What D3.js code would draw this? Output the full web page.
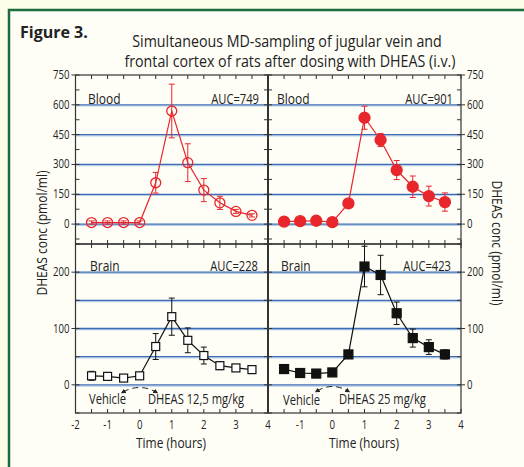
<!DOCTYPE html>
<html>
<head>
<meta charset="utf-8">
<script src="https://cdn.jsdelivr.net/npm/d3@7"></script>
<style>
  body { margin: 0; background: #fcfce8; }
  svg text { font-family: 'Open Sans', 'Roboto', sans-serif; fill: #222; }
</style>
</head>
<body>
<svg id="chart" width="524" height="467"></svg>
<script>
// time points (hours)
var times = [-1.5, -1, -0.5, 0, 0.5, 1, 1.5, 2, 2.5, 3, 3.5];

// blood, 12.5 mg/kg (open circles)
var bloodLow    = [8, 8, 8, 8, 208, 569, 309, 171, 107, 64, 44];
var bloodLowErr = [8, 8, 8, 8, 52, 135, 95, 58, 33, 10, 8];
// blood, 25 mg/kg (filled circles)
var bloodHigh    = [13, 15, 17, 10, 104, 535, 423, 272, 188, 141, 111];
var bloodHighErr = [0, 0, 0, 0, 6, 58, 33, 48, 54, 50, 46];
// brain, 12.5 mg/kg (open squares)
var brainLow    = [16, 15, 12, 16, 68, 121, 79, 52, 34, 30, 27];
var brainLowErr = [8, 3, 3, 3, 23, 33, 22, 15, 7, 5, 5];
// brain, 25 mg/kg (filled squares)
var brainHigh    = [28, 21, 20, 22, 54, 210, 195, 127, 83, 67, 54];
var brainHighErr = [0, 0, 0, 0, 5, 36, 35, 20, 16, 13, 8];

var bloodTicks = [0, 150, 300, 450, 600, 750];
var bloodGrid = [0, 150, 300, 450, 600];
var brainTicks = [0, 100, 200];
var brainGrid = [0, 50, 100, 150, 200];
var timeTicksLeft = [-2, -1, 0, 1, 2, 3, 4];
var timeTicksRight = [-1, 0, 1, 2, 3, 4];

var aucLow = ['AUC=749', 'AUC=228'];
var aucHigh = ['AUC=901', 'AUC=423'];

var RED = '#e8262c';
var GRID = '#3c6cb4';
var SQ = 0.8; // horizontal squeeze to mimic the condensed face

var svg = d3.select('#chart');

// green frame (cropped: only top & left visible)
svg.append('rect').attr('x', 9).attr('y', 10).attr('width', 530).attr('height', 470)
  .attr('fill', '#fefef7').attr('stroke', '#1d6b3e').attr('stroke-width', 2.5);

var xL = d3.scaleLinear().domain([-2, 4]).range([75.5, 268]);
var xR = d3.scaleLinear().domain([-2, 4]).range([268, 461]);
var yTop = d3.scaleLinear().domain([-100, 750]).range([244, 75]);
var yBot = d3.scaleLinear().domain([-50, 250]).range([413, 244]);

var halfHours = d3.range(-2, 4.01, 0.5);

// text with a horizontal squeeze
var label = function(x, y, txt, anchor, size, rot, sq) {
  return svg.append('text')
    .attr('transform', 'translate(' + x + ',' + y + ')' + (rot ? ' rotate(' + rot + ')' : '') +
      ' scale(' + (sq || SQ) + ',1)')
    .attr('text-anchor', anchor || 'start')
    .attr('font-size', size || 14).text(txt);
};

var drawGrid = function(x, y, vals) {
  vals.forEach(function(v) {
    svg.append('line')
      .attr('x1', x.range()[0]).attr('x2', x.range()[1])
      .attr('y1', y(v) + 1.2).attr('y2', y(v) + 1.2)
      .attr('stroke', '#b9cde8').attr('stroke-width', 1.2);
    svg.append('line')
      .attr('x1', x.range()[0]).attr('x2', x.range()[1])
      .attr('y1', y(v)).attr('y2', y(v))
      .attr('stroke', GRID).attr('stroke-width', 1.3);
  });
};

var drawFrame = function(x, y, minorStep, xLabels, leftLabels, rightLabels, ticks) {
  var x0 = x.range()[0], x1 = x.range()[1];
  var yb = y.range()[0], yt = y.range()[1];
  var g = svg.append('g').attr('stroke', '#333').attr('stroke-width', 1);

  // x ticks inward on top and bottom
  halfHours.forEach(function(t) {
    g.append('line').attr('x1', x(t)).attr('x2', x(t)).attr('y1', yt).attr('y2', yt + 4);
    g.append('line').attr('x1', x(t)).attr('x2', x(t)).attr('y1', yb).attr('y2', yb - 4);
  });

  // y minor ticks inward on both sides
  var d = y.domain();
  d3.range(Math.ceil(d[0] / minorStep) * minorStep, d[1] + 0.01, minorStep).forEach(function(v) {
    g.append('line').attr('x1', x0).attr('x2', x0 + 4).attr('y1', y(v)).attr('y2', y(v));
    g.append('line').attr('x1', x1).attr('x2', x1 - 4).attr('y1', y(v)).attr('y2', y(v));
  });

  if (leftLabels) {
    ticks.forEach(function(v) {
      g.append('line').attr('x1', x0 - 4).attr('x2', x0).attr('y1', y(v)).attr('y2', y(v));
      label(x0 - 6, y(v) + 4, v, 'end', 12);
    });
  }
  if (rightLabels) {
    ticks.forEach(function(v) {
      g.append('line').attr('x1', x1).attr('x2', x1 + 4).attr('y1', y(v)).attr('y2', y(v));
      label(x1 + 6, y(v) + 4, v, 'start', 12);
    });
  }
  if (xLabels) {
    xLabels.forEach(function(t) {
      label(x(t), yb + 16, t, 'middle', 12);
    });
  }

  svg.append('rect').attr('x', x0).attr('y', yt).attr('width', x1 - x0).attr('height', yb - yt)
    .attr('fill', 'none').attr('stroke', '#333').attr('stroke-width', 1.2);
};

var drawSeries = function(x, y, vals, errs, color, shape, filled) {
  var pts = times.map(function(t, i) { return { t: t, v: vals[i], e: errs[i] }; });
  var g = svg.append('g');

  g.append('path').datum(pts)
    .attr('d', d3.line().x(function(p) { return x(p.t); }).y(function(p) { return y(p.v); }))
    .attr('fill', 'none').attr('stroke', color).attr('stroke-width', 1.2);

  var eb = g.selectAll('g.err').data(pts.filter(function(p) { return p.e > 0; }))
    .enter().append('g').attr('class', 'err').attr('stroke', color).attr('stroke-width', 1);
  eb.append('line')
    .attr('x1', function(p) { return x(p.t); }).attr('x2', function(p) { return x(p.t); })
    .attr('y1', function(p) { return y(p.v + p.e); }).attr('y2', function(p) { return y(p.v - p.e); });
  [1, -1].forEach(function(s) {
    eb.append('line')
      .attr('x1', function(p) { return x(p.t) - 3; }).attr('x2', function(p) { return x(p.t) + 3; })
      .attr('y1', function(p) { return y(p.v + s * p.e); }).attr('y2', function(p) { return y(p.v + s * p.e); });
  });

  if (shape === 'circle') {
    g.selectAll('circle.pt').data(pts).enter().append('circle').attr('class', 'pt')
      .attr('cx', function(p) { return x(p.t); }).attr('cy', function(p) { return y(p.v); })
      .attr('r', filled ? 5.5 : 5)
      .attr('fill', filled ? color : 'none').attr('stroke', color).attr('stroke-width', 1.3);
  } else {
    var s = filled ? 9 : 8;
    g.selectAll('rect.pt').data(pts).enter().append('rect').attr('class', 'pt')
      .attr('x', function(p) { return x(p.t) - s / 2; }).attr('y', function(p) { return y(p.v) - s / 2; })
      .attr('width', s).attr('height', s)
      .attr('fill', filled ? color : '#fff').attr('stroke', color).attr('stroke-width', 1.2);
  }
};

svg.append('defs').append('marker').attr('id', 'ah')
  .attr('viewBox', '0 0 10 10').attr('refX', 5).attr('refY', 5)
  .attr('markerWidth', 5).attr('markerHeight', 5).attr('orient', 'auto-start-reverse')
  .append('path').attr('d', 'M0,0 L10,5 L0,10 z').attr('fill', '#222');

var arcArrow = function(xa, xb, y) {
  var xm = (xa + xb) / 2;
  svg.append('path')
    .attr('d', 'M' + xa + ',' + (y + 4) + ' Q' + xm + ',' + (y - 5) + ' ' + xb + ',' + (y + 4))
    .attr('fill', 'none').attr('stroke', '#222').attr('stroke-width', 1)
    .attr('stroke-dasharray', '6,4')
    .attr('marker-start', 'url(#ah)').attr('marker-end', 'url(#ah)');
};

// grids
drawGrid(xL, yTop, bloodGrid);
drawGrid(xR, yTop, bloodGrid);
drawGrid(xL, yBot, brainGrid);
drawGrid(xR, yBot, brainGrid);

// frames
drawFrame(xL, yTop, 75, null, true, false, bloodTicks);
drawFrame(xR, yTop, 75, null, false, true, bloodTicks);
drawFrame(xL, yBot, 50, timeTicksLeft, true, false, brainTicks);
drawFrame(xR, yBot, 50, timeTicksRight, false, true, brainTicks);
svg.append('line').attr('x1', 268).attr('x2', 268).attr('y1', 75).attr('y2', 413)
  .attr('stroke', '#333').attr('stroke-width', 2);

// data
drawSeries(xL, yTop, bloodLow, bloodLowErr, RED, 'circle', false);
drawSeries(xR, yTop, bloodHigh, bloodHighErr, RED, 'circle', true);
drawSeries(xL, yBot, brainLow, brainLowErr, '#111', 'square', false);
drawSeries(xR, yBot, brainHigh, brainHighErr, '#111', 'square', true);

// panel labels
label(88, 104, 'Blood', 'start', 15);
label(259, 104, aucLow[0], 'end', 14);
label(277, 104, 'Blood', 'start', 15);
label(453, 104, aucHigh[0], 'end', 14);
label(90, 271, 'Brain', 'start', 15);
label(258, 271, aucLow[1], 'end', 14);
label(281, 271, 'Brain', 'start', 15);
label(451, 271, aucHigh[1], 'end', 14);

label(89, 404, 'Vehicle', 'start', 14);
label(148, 404, 'DHEAS  12,5 mg/kg', 'start', 14);
label(283, 405, 'Vehicle', 'start', 14);
label(339, 404, 'DHEAS  25 mg/kg', 'start', 14);
arcArrow(123, 156, 388);
arcArrow(317, 348, 387);

// axis titles
label(171, 448, 'Time (hours)', 'middle', 15);
label(364, 448, 'Time (hours)', 'middle', 15);
label(47, 233, 'DHEAS conc (pmol/ml)', 'middle', 15, -90);
label(492, 243, 'DHEAS conc (pmol/ml)', 'middle', 15, 90);

// titles
svg.append('text').attr('x', 20).attr('y', 38).attr('font-size', 16).attr('font-weight', 'bold')
  .text('Figure 3.');
label(287, 47, 'Simultaneous MD-sampling of jugular vein and', 'middle', 15.5, 0, 0.92);
label(290, 67, 'frontal cortex of rats after dosing with DHEAS (i.v.)', 'middle', 15.5, 0, 0.92);
</script>
</body>
</html>
